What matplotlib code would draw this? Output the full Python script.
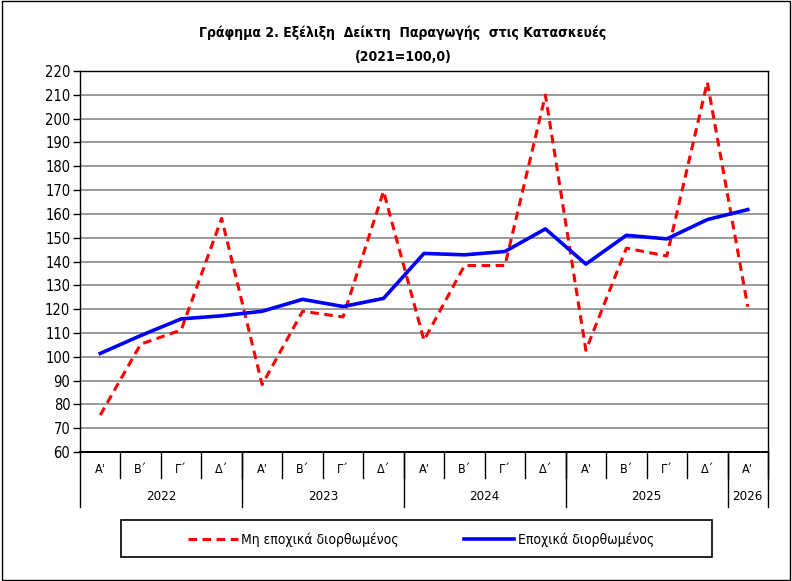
import matplotlib.pyplot as plt
import matplotlib.transforms as mtransforms
from matplotlib.patches import Rectangle

# data
quarters = ["Α'", "Β΄", "Γ΄", "Δ΄"] * 4 + ["Α'"]
years = ["2022", "2023", "2024", "2025", "2026"]
year_quarters = [4, 4, 4, 4, 1]
not_adjusted = [75.5, 105.3, 111.2, 158.1, 88.3, 119.1, 116.7, 169.5, 106.9,
                138.3, 138.3, 209.9, 102.7, 145.6, 142.3, 215.3, 121.0]
adjusted = [101.4, 108.9, 115.9, 117.2, 119.1, 124.1, 121.1, 124.5, 143.4,
            142.8, 144.2, 153.7, 138.9, 151.0, 149.5, 157.6, 161.8]

plt.rcParams['font.family'] = ['DejaVu Sans']
plt.rcParams['font.stretch'] = 'condensed'

fig = plt.figure(figsize=(7.92, 5.81), dpi=100)
ax = fig.add_axes([80 / 792, 1 - 452 / 581, 688 / 792, 381 / 581])

x = list(range(len(quarters)))
ax.plot(x, not_adjusted, color='#FF0000', lw=2.2, ls=(0, (2.8, 1.8)),
        label='Μη εποχικά διορθωμένος', zorder=3)
ax.plot(x, adjusted, color='#0000FF', lw=2.6,
        label='Εποχικά διορθωμένος', zorder=4)

ax.set_xlim(-0.5, len(quarters) - 0.5)
ax.set_ylim(60, 220)
ax.set_yticks(range(60, 221, 10))
ax.tick_params(axis='y', direction='out', length=5, width=1, labelsize=10.5, pad=2)
ax.set_xticks([])
ax.yaxis.grid(True, color='#9a9a9a', lw=1.4)
ax.set_axisbelow(True)
for s in ax.spines.values():
    s.set_color('black')
    s.set_linewidth(1.0)
ax.spines['bottom'].set_linewidth(1.4)

# two level category axis
trans = mtransforms.blended_transform_factory(ax.transData, ax.transAxes)
for i, q in enumerate(quarters):
    ax.text(i, -0.045, q, transform=trans, ha='center', va='center', fontsize=9)
    ax.plot([i + 0.5, i + 0.5], [0, -0.068], transform=trans, color='black',
            lw=1.0, clip_on=False)

start = -0.5
for yr, n in zip(years, year_quarters):
    ax.text(start + n / 2, -0.118, yr, transform=trans, ha='center',
            va='center', fontsize=9.5)
    ax.plot([start, start], [0, -0.145], transform=trans, color='black',
            lw=1.0, clip_on=False)
    start += n
ax.plot([start, start], [0, -0.145], transform=trans, color='black',
        lw=1.0, clip_on=False)

fig.text(403 / 792, 1 - 33 / 581, 'Γράφημα 2. Εξέλιξη  Δείκτη  Παραγωγής  στις Κατασκευές',
         ha='center', va='center', fontsize=10, fontweight='bold')
fig.text(403 / 792, 1 - 57 / 581, '(2021=100,0)',
         ha='center', va='center', fontsize=10, fontweight='bold')

# legend
fig.patches.append(Rectangle((121 / 792, 1 - 557 / 581), 591 / 792, 37 / 581,
                             transform=fig.transFigure, fill=False,
                             edgecolor='black', lw=1.2))
fig.legend(loc='center', bbox_to_anchor=(421 / 792, 1 - 540 / 581), ncol=2,
           frameon=False, fontsize=10, handlelength=3.6, handletextpad=0.25,
           columnspacing=4.7)

# border around the whole picture
fig.patches.append(Rectangle((0.002, 0.002), 0.996, 0.996,
                             transform=fig.transFigure, fill=False,
                             edgecolor='black', lw=1.0))

fig.savefig('out.png', dpi=100)
